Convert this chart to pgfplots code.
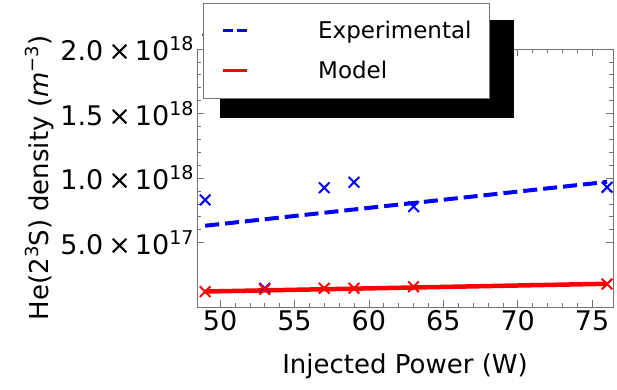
\documentclass[border=0pt]{standalone}
\usepackage{fontspec}
\setmainfont{DejaVu Sans}
\usepackage{pgfplots}
\pgfplotsset{compat=1.18}
\newcommand\sups[1]{\raisebox{10bp}{\fontsize{18bp}{18bp}\selectfont #1}}
\newcommand\tsups[1]{\raisebox{10bp}{\fontsize{19bp}{19bp}\selectfont #1}}
\newcommand\sci[2]{#1\hspace{5bp}×\hspace{4bp}10\tsups{#2}}
\definecolor{framegray}{rgb}{0.45,0.45,0.45}
\begin{document}
\begin{tikzpicture}
\begin{axis}[
  scale only axis, width=416bp, height=258bp,
  xmin=48.45, xmax=76.4, ymin=0, ymax=2e18,
  clip=false,
  xtick={50,55,60,65,70,75}, minor x tick num=4,
  ytick={5e17,1e18,1.5e18,2e18}, minor y tick num=4,
  yticklabels={\sci{5.0}{17},\sci{1.0}{18},\sci{1.5}{18},\sci{2.0}{18}},
  axis line style={draw=framegray, line width=0.8bp},
  tick style={framegray, line width=0.6bp},
  major tick length=7bp, minor tick length=4bp,
  tick label style={font=\fontsize{27bp}{31bp}\selectfont},
  /pgf/number format/assume math mode=true,
  label style={font=\fontsize{26bp}{30bp}\selectfont},
  xlabel={Injected Power (W)},
  xlabel style={yshift=-16bp},
  ylabel={He(2\sups{3}S) density (\textit{m}\sups{−3})},
  legend style={at={(0.0144,1.178)}, anchor=north west, draw=framegray, fill=white,
    font=\fontsize{23bp}{27bp}\selectfont, row sep=21bp,
    inner xsep=18bp, inner ysep=18bp, nodes={inner sep=0bp},
    /tikz/every odd column/.append style={column sep=70bp}},
  legend cell align=left,
]
\coordinate (O) at (rel axis cs:0,0);
\fill[black] (rel axis cs:0.0553,0.7326) rectangle (rel axis cs:0.762,1.112);
\addplot[blue, line width=4bp, dash pattern=on 14bp off 6bp,
  legend image code/.code={\draw[blue, line width=3bp, dash pattern=on 10bp off 4bp] (0bp,0bp) -- (24bp,0bp);}]
  coordinates {(49,6.3e17) (76,9.7e17)};
\addlegendentry{Experimental}
\addplot[red, line width=4.5bp,
  legend image code/.code={\draw[red, line width=3bp] (0bp,0bp) -- (24bp,0bp);}]
  coordinates {(49,1.2e17) (76,1.8e17)};
\addlegendentry{Model}
\addplot[only marks, mark=x, mark size=7.5bp, blue, mark options={line width=2bp}, forget plot]
  coordinates {(49,8.3e17) (53,1.45e17) (57,9.25e17) (59,9.67e17) (63,7.78e17) (76,9.28e17)};
\addplot[only marks, mark=x, mark size=7.5bp, red, mark options={line width=2bp}, forget plot]
  coordinates {(49,1.19e17) (53,1.37e17) (57,1.45e17) (59,1.45e17) (63,1.57e17) (76,1.78e17)};
\end{axis}
\pgfresetboundingbox
\path (O) ++(-197bp,-83bp) rectangle ++(617bp,390bp);
\end{tikzpicture}
\end{document}
